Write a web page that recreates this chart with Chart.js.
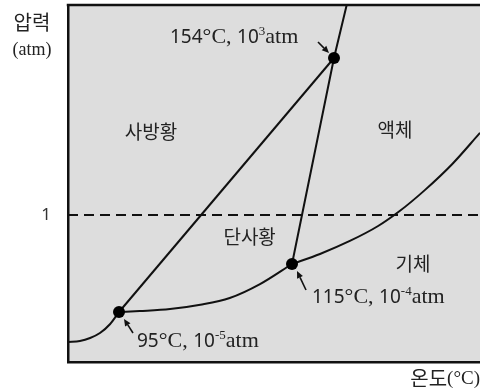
<!DOCTYPE html>
<html>
<head>
<meta charset="utf-8">
<script src="https://cdn.jsdelivr.net/npm/chart.js@4.4.1/dist/chart.umd.min.js"></script>
<style>
  html, body { margin: 0; padding: 0; background: #fff; }
  #wrap { width: 480px; height: 392px; }
</style>
</head>
<body>
<div id="wrap"><canvas id="c" width="480" height="392"></canvas></div>
<script>
// Phase diagram of sulfur. Temperature in °C, pressure as log10(atm).
const triplePointT    = [95, 115, 154];
const triplePointLogP = [-5, -4, 3];

// rhombic sulfur ⇌ vapour
const rhombicVaporT    = [80, 83.5, 86.5, 89.4, 92.4, 95];
const rhombicVaporLogP = [-5.6, -5.58, -5.52, -5.42, -5.24, -5];

// monoclinic sulfur ⇌ vapour
const monoVaporT    = [95, 97.4, 100.9, 104.4, 107.8, 111.3, 115];
const monoVaporLogP = [-5, -4.98, -4.94, -4.85, -4.71, -4.42, -4];

// liquid ⇌ vapour
const liquidVaporT    = [115, 141.0, 159.0, 167.9, 174.8, 182.7, 191.2, 200];
const liquidVaporLogP = [-4, -3.18, -2.12, -0.90, 0.08, 0.48, 0.97, 1.57];

// rhombic ⇌ monoclinic
const rhombicMonoT    = [95, 154];
const rhombicMonoLogP = [-5, 3];

// monoclinic ⇌ liquid, then rhombic ⇌ liquid above 154 °C
const meltT    = [115, 154, 158];
const meltLogP = [-4, 3, 4];

// 1 atm reference
const oneAtmT    = [80, 200];
const oneAtmLogP = [0, 0];

// phase names and where they sit
const regionNames = ['사방황', '액체', '단사황', '기체'];
const regionT     = [98.7, 173.2, 110.1, 178.9];
const regionLogP  = [1.59, 1.62, -1.8, -4];

// The diagram is not to scale: each axis is stretched piecewise between breakpoints
// (value, fraction of the axis length).
const axisBreaks = {
  x: [[80, 0], [95, 0.1238], [115, 0.5437], [154, 0.6456], [200, 1]],
  y: [[-6, 0], [-5, 0.1401], [-4, 0.2745], [0, 0.4118], [3, 0.8515], [4, 1]]
};

function segIndex(list, v, k) {
  let i = 0;
  while (i < list.length - 2 && v > list[i + 1][k]) i++;
  return i;
}
function warp(list, v) {
  const i = segIndex(list, v, 0);
  const [a0, b0] = list[i], [a1, b1] = list[i + 1];
  return b0 + (v - a0) * (b1 - b0) / (a1 - a0);
}
function unwarp(list, f) {
  const i = segIndex(list, f, 1);
  const [a0, b0] = list[i], [a1, b1] = list[i + 1];
  return a0 + (f - b0) * (a1 - a0) / (b1 - b0);
}

// Linear scale whose positions follow the breakpoints above.
class BrokenScale extends Chart.LinearScale {
  getPixelForValue(value) {
    const f = warp(axisBreaks[this.id], value);
    return super.getPixelForValue(this.min + f * (this.max - this.min));
  }
  getValueForPixel(pixel) {
    const v = super.getValueForPixel(pixel);
    return unwarp(axisBreaks[this.id], (v - this.min) / (this.max - this.min));
  }
}
BrokenScale.id = 'broken';
BrokenScale.defaults = { ticks: { callback: Chart.Ticks.formatters.numeric } };
Chart.register(BrokenScale);

const pts = (xs, ys) => xs.map((x, i) => ({ x, y: ys[i] }));

const INK = '#111';
const TEXT = '#222';
const SANS = '"Noto Sans", "DejaVu Sans", sans-serif';
const SERIF = '"Liberation Serif", "DejaVu Serif", serif';
const KR = '"Noto Sans CJK KR", "Noto Sans", sans-serif';

function curve(data, extra) {
  return Object.assign({
    data, showLine: true, borderColor: INK, borderWidth: 2,
    pointRadius: 0, tension: 0, fill: false
  }, extra || {});
}

function drawRich(ctx, x, y, parts) {
  ctx.textAlign = 'left';
  ctx.textBaseline = 'alphabetic';
  for (const p of parts) {
    ctx.font = p.font;
    ctx.fillText(p.t, x, y + (p.dy || 0));
    x += ctx.measureText(p.t).width;
  }
}

function drawArrow(ctx, x0, y0, x1, y1) {
  const ang = Math.atan2(y1 - y0, x1 - x0);
  const len = 7, half = 3.2;
  const bx = x1 - len * Math.cos(ang), by = y1 - len * Math.sin(ang);
  ctx.beginPath();
  ctx.moveTo(x0, y0);
  ctx.lineTo(bx, by);
  ctx.lineWidth = 1.6;
  ctx.strokeStyle = INK;
  ctx.stroke();
  ctx.beginPath();
  ctx.moveTo(x1, y1);
  ctx.lineTo(bx + half * Math.sin(ang), by - half * Math.cos(ang));
  ctx.lineTo(bx - half * Math.sin(ang), by + half * Math.cos(ang));
  ctx.closePath();
  ctx.fillStyle = INK;
  ctx.fill();
}

// text block and arrow placement around each marked point, in pixels
const calloutLayout = [
  { tx: 18,   ty: 35,  ax0: 14,  ay0: 21,  ax1: 5,  ay1: 7 },
  { tx: 20,   ty: 39,  ax0: 14,  ay0: 26,  ax1: 5,  ay1: 7 },
  { tx: -164, ty: -15, ax0: -16, ay0: -16, ax1: -5, ay1: -5 }
];

const diagramPlugin = {
  id: 'diagram',
  beforeDraw(chart) {
    const { ctx, chartArea: a } = chart;
    ctx.save();
    ctx.fillStyle = '#dddddd';
    ctx.fillRect(a.left, a.top, a.right - a.left, a.bottom - a.top);
    ctx.restore();
  },
  afterDraw(chart) {
    const { ctx, chartArea: a, scales: { x, y } } = chart;
    ctx.save();

    // top frame edge
    ctx.beginPath();
    ctx.moveTo(a.left - 1.25, a.top);
    ctx.lineTo(a.right, a.top);
    ctx.lineWidth = 2.5;
    ctx.strokeStyle = INK;
    ctx.stroke();

    // phase names
    ctx.fillStyle = TEXT;
    ctx.font = '19px ' + KR;
    ctx.textAlign = 'center';
    ctx.textBaseline = 'middle';
    regionNames.forEach((name, i) => {
      ctx.fillText(name, x.getPixelForValue(regionT[i]), y.getPixelForValue(regionLogP[i]));
    });

    // axis titles
    ctx.font = '20px ' + KR;
    ctx.fillText('압력', 32, 22);
    ctx.font = '18px ' + SERIF;
    ctx.fillText('(atm)', 32, 50);

    ctx.textAlign = 'right';
    ctx.font = '19px ' + SERIF;
    const unit = '(°C)';
    const uw = ctx.measureText(unit).width;
    ctx.fillText(unit, 480, 379);
    ctx.font = '20px ' + KR;
    ctx.fillText('온도', 480 - uw, 378);

    // triple-point call-outs
    triplePointT.forEach((t, i) => {
      const px = x.getPixelForValue(t), py = y.getPixelForValue(triplePointLogP[i]);
      const L = calloutLayout[i];
      drawArrow(ctx, px + L.ax0, py + L.ay0, px + L.ax1, py + L.ay1);
      ctx.fillStyle = TEXT;
      drawRich(ctx, px + L.tx, py + L.ty, [
        { t: String(t), font: '19px ' + SANS },
        { t: '°C, ', font: '22px ' + SERIF },
        { t: '10', font: '19px ' + SANS },
        { t: String(triplePointLogP[i]), font: '13px ' + SERIF, dy: -8 },
        { t: 'atm', font: '22px ' + SERIF }
      ]);
    });
    ctx.restore();
  }
};

new Chart(document.getElementById('c'), {
  type: 'scatter',
  data: {
    datasets: [
      { data: pts(triplePointT, triplePointLogP), pointRadius: 6, pointBackgroundColor: '#000',
        pointBorderWidth: 0, showLine: false },
      curve(pts(rhombicVaporT, rhombicVaporLogP), { cubicInterpolationMode: 'monotone' }),
      curve(pts(monoVaporT, monoVaporLogP), { cubicInterpolationMode: 'monotone' }),
      curve(pts(liquidVaporT, liquidVaporLogP), { cubicInterpolationMode: 'monotone' }),
      curve(pts(rhombicMonoT, rhombicMonoLogP)),
      curve(pts(meltT, meltLogP)),
      curve(pts(oneAtmT, oneAtmLogP), { borderDash: [10, 6] })
    ]
  },
  options: {
    responsive: false,
    animation: false,
    events: [],
    layout: { autoPadding: false, padding: { left: 0, top: 5, right: 0, bottom: 30 } },
    plugins: { legend: { display: false }, tooltip: { enabled: false } },
    scales: {
      x: {
        type: 'broken', min: 80, max: 200,
        grid: { display: false, drawTicks: false },
        ticks: { display: false },
        border: { display: true, color: INK, width: 2.5 },
        afterFit: s => { s.height = 0; s.paddingLeft = 0; s.paddingRight = 0; }
      },
      y: {
        type: 'broken', min: -6, max: 4,
        grid: { display: false, drawTicks: false },
        ticks: { padding: 17, color: '#333', font: { family: SANS, size: 17 }, callback: () => '1' },
        border: { display: true, color: INK, width: 2.5 },
        afterBuildTicks: s => { s.ticks = [{ value: 0 }]; },
        afterFit: s => { s.width = 68; s.paddingTop = 0; s.paddingBottom = 0; }
      }
    }
  },
  plugins: [diagramPlugin]
});
</script>
</body>
</html>
